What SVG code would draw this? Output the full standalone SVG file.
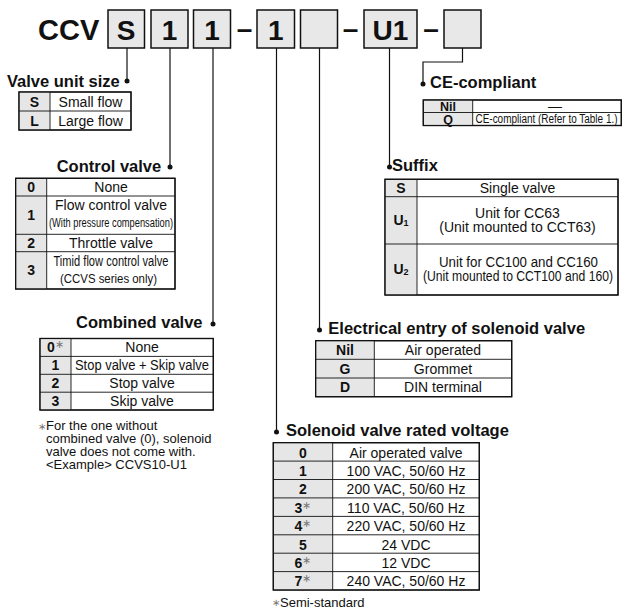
<svg xmlns="http://www.w3.org/2000/svg" width="622" height="610" viewBox="0 0 622 610">
<style>
text{font-family:"Liberation Sans",Arial,sans-serif;fill:#111}
.hd{font-size:29px;font-weight:bold}
.bx{fill:#e8e8e8;stroke:#111;stroke-width:1.5}
.bt{font-size:28px;font-weight:bold;text-anchor:middle}
.ti{font-size:16.5px;font-weight:bold}
.c{font-size:14px;text-anchor:middle}
.b{font-size:14px;font-weight:bold;text-anchor:middle}
.s{font-size:12.5px;font-weight:bold;text-anchor:middle}
.fn{font-size:13px}
.ast{fill:#777;font-size:11px;font-weight:normal}
.tb{fill:#fff;stroke:#111;stroke-width:1.2}
.g{fill:#e6e6e6;stroke:none}
.ln{stroke:#111;stroke-width:0.9;fill:none}
.con{stroke:#111;stroke-width:1.2;fill:none}
.dot{fill:#111}
</style>

<g id="code">
<text class="hd" x="38" y="40">CCV</text>
<rect class="bx" x="108" y="10" width="36.5" height="38"/><text class="bt" x="126.2" y="39.5">S</text>
<rect class="bx" x="151" y="10" width="37" height="38"/><text class="bt" x="169.5" y="39.5">1</text>
<rect class="bx" x="193.5" y="10" width="37" height="38"/><text class="bt" x="212" y="39.5">1</text>
<text class="bt" x="244.5" y="38">–</text>
<rect class="bx" x="257" y="10" width="37.5" height="38"/><text class="bt" x="275.7" y="39.5">1</text>
<rect class="bx" x="300.5" y="10" width="37" height="38"/>
<text class="bt" x="350.5" y="38">–</text>
<rect class="bx" x="364" y="10" width="53" height="38"/><text class="bt" x="390.5" y="39.5">U1</text>
<text class="bt" x="431" y="38">–</text>
<rect class="bx" x="444" y="10" width="37" height="38"/>
</g>

<g id="connectors">
<path class="con" d="M127 48V81"/>
<circle class="dot" cx="127" cy="81" r="2.5"/>
<path class="con" d="M170 48V167"/>
<circle class="dot" cx="170" cy="167" r="2.5"/>
<path class="con" d="M213 48V324"/>
<circle class="dot" cx="213" cy="324" r="2.5"/>
<path class="con" d="M276.5 48V432"/>
<circle class="dot" cx="276.5" cy="432" r="2.5"/>
<path class="con" d="M319.5 48V330"/>
<circle class="dot" cx="319.5" cy="330" r="2.5"/>
<path class="con" d="M389.5 48V167"/>
<circle class="dot" cx="389.5" cy="167" r="2.5"/>
<path class="con" d="M462.5 48V62H423V84"/>
<circle class="dot" cx="423" cy="84" r="2.5"/>
</g>

<g id="valve-unit-size">
<text class="ti" x="7" y="87.3">Valve unit size</text>
<rect class="tb" x="19" y="92" width="112" height="38"/>
<rect class="g" x="19.6" y="92.6" width="30.4" height="36.8"/>
<path class="ln" d="M50 92V130M19 111H131"/>
<rect x="19" y="92" width="112" height="38" fill="none" stroke="#111" stroke-width="1.2"/>
<text class="b" x="34.5" y="106.5">S</text><text class="c" x="90.5" y="106.5">Small flow</text>
<text class="b" x="34.5" y="125.5">L</text><text class="c" x="90.5" y="125.5">Large flow</text>
</g>

<g id="control-valve">
<text class="ti" x="56.7" y="171.5">Control valve</text>
<rect class="tb" x="15.7" y="178.3" width="159.3" height="110.7"/>
<rect class="g" x="16.3" y="178.9" width="30.4" height="109.5"/>
<path class="ln" d="M46.7 178.3V289M15.7 196H175M15.7 234.3H175M15.7 251.7H175"/>
<rect x="15.7" y="178.3" width="159.3" height="110.7" fill="none" stroke="#111" stroke-width="1.2"/>
<text class="b" x="31.2" y="192">0</text><text class="c" x="111" y="192">None</text>
<text class="b" x="31.2" y="220">1</text><text class="c" x="111" y="209.5">Flow control valve</text>
<text class="c" x="111" y="226.5" style="font-size:12px" textLength="124" lengthAdjust="spacingAndGlyphs">(With pressure compensation)</text>
<text class="b" x="31.2" y="247.5">2</text><text class="c" x="111" y="247.5">Throttle valve</text>
<text class="b" x="31.2" y="275">3</text><text class="c" x="111" y="266" textLength="115" lengthAdjust="spacingAndGlyphs">Timid flow control valve</text>
<text class="c" x="108.5" y="282.5" style="font-size:13px" textLength="97" lengthAdjust="spacingAndGlyphs">(CCVS series only)</text>
</g>

<g id="combined-valve">
<text class="ti" x="76" y="328.3">Combined valve</text>
<rect class="tb" x="40" y="338.5" width="173.3" height="71.5"/>
<rect class="g" x="40.6" y="339.1" width="30.4" height="70.3"/>
<path class="ln" d="M71 338.5V410M40 356.4H213.3M40 374.3H213.3M40 392.2H213.3"/>
<rect x="40" y="338.5" width="173.3" height="71.5" fill="none" stroke="#111" stroke-width="1.2"/>
<text class="b" x="55.5" y="352">0<tspan class="ast" dy="-4">∗</tspan></text><text class="c" x="142" y="352">None</text>
<text class="b" x="55.5" y="370">1</text><text class="c" x="142" y="370" textLength="134" lengthAdjust="spacingAndGlyphs">Stop valve + Skip valve</text>
<text class="b" x="55.5" y="388">2</text><text class="c" x="142" y="388">Stop valve</text>
<text class="b" x="55.5" y="405.8">3</text><text class="c" x="142" y="405.8">Skip valve</text>
<text class="fn" x="37.5" y="429.5" fill="#777" style="font-size:10px;fill:#777">∗</text>
<text class="fn" x="46" y="430">For the one without</text>
<text class="fn" x="46" y="443">combined valve (0), solenoid</text>
<text class="fn" x="46" y="456">valve does not come with.</text>
<text class="fn" x="46" y="469">&lt;Example&gt; CCVS10-U1</text>
</g>

<g id="ce-compliant">
<text class="ti" x="430" y="88.3">CE-compliant</text>
<rect class="tb" x="423.3" y="100" width="198" height="25.5"/>
<rect class="g" x="423.9" y="100.6" width="48.8" height="24.3"/>
<path class="ln" d="M472.7 100V125.5M423.3 112.5H622"/>
<rect x="423.3" y="100" width="198" height="25.5" fill="none" stroke="#111" stroke-width="1.2"/>
<text class="s" x="448" y="110.8">Nil</text>
<text class="c" x="555" y="110.5">—</text>
<text class="s" x="448" y="123.5">Q</text>
<text x="475.5" y="123.2" style="font-size:12px" textLength="142" lengthAdjust="spacingAndGlyphs">CE-compliant (Refer to Table 1.)</text>
</g>

<g id="suffix">
<text class="ti" x="392" y="171">Suffix</text>
<rect class="tb" x="385" y="179.3" width="233" height="115.7"/>
<rect class="g" x="385.6" y="179.9" width="31.4" height="114.5"/>
<path class="ln" d="M417 179.3V295M385 196.7H618M385 244H618"/>
<rect x="385" y="179.3" width="233" height="115.7" fill="none" stroke="#111" stroke-width="1.2"/>
<text class="b" x="401" y="192.5">S</text><text class="c" x="517.5" y="192.5">Single valve</text>
<text class="b" x="401" y="225">U<tspan font-size="9" dy="1">1</tspan></text>
<text class="c" x="517.5" y="218.3">Unit for CC63</text>
<text class="c" x="517.5" y="232">(Unit mounted to CCT63)</text>
<text class="b" x="401" y="274">U<tspan font-size="9" dy="1">2</tspan></text>
<text class="c" x="518.5" y="266.5" textLength="159" lengthAdjust="spacingAndGlyphs">Unit for CC100 and CC160</text>
<text class="c" x="518" y="280.5" textLength="190" lengthAdjust="spacingAndGlyphs">(Unit mounted to CCT100 and 160)</text>
</g>

<g id="electrical-entry">
<text class="ti" x="328.3" y="334">Electrical entry of solenoid valve</text>
<rect class="tb" x="315.7" y="340.7" width="196" height="56"/>
<rect class="g" x="316.3" y="341.3" width="58" height="54.8"/>
<path class="ln" d="M374.3 340.7V396.7M315.7 359.3H511.7M315.7 378H511.7"/>
<rect x="315.7" y="340.7" width="196" height="56" fill="none" stroke="#111" stroke-width="1.2"/>
<text class="b" x="345" y="355">Nil</text><text class="c" x="443" y="355">Air operated</text>
<text class="b" x="345" y="373.7">G</text><text class="c" x="443" y="373.7">Grommet</text>
<text class="b" x="345" y="392.3">D</text><text class="c" x="443" y="392.3">DIN terminal</text>
</g>

<g id="rated-voltage">
<text class="ti" x="286" y="436">Solenoid valve rated voltage</text>
<rect class="tb" x="273.3" y="442.7" width="206" height="147.3"/>
<rect class="g" x="273.9" y="443.3" width="58.8" height="146.1"/>
<path class="ln" d="M332.7 442.7V590M273.3 461.1H479.3M273.3 479.5H479.3M273.3 497.9H479.3M273.3 516.4H479.3M273.3 534.8H479.3M273.3 553.2H479.3M273.3 571.6H479.3"/>
<rect x="273.3" y="442.7" width="206" height="147.3" fill="none" stroke="#111" stroke-width="1.2"/>
<text class="b" x="303" y="457.5">0</text><text class="c" x="406" y="457.5">Air operated valve</text>
<text class="b" x="303" y="475.9">1</text><text class="c" x="406" y="475.9">100 VAC, 50/60 Hz</text>
<text class="b" x="303" y="494.3">2</text><text class="c" x="406" y="494.3">200 VAC, 50/60 Hz</text>
<text class="b" x="303" y="512.7">3<tspan class="ast" dy="-4">∗</tspan></text><text class="c" x="406" y="512.7">110 VAC, 50/60 Hz</text>
<text class="b" x="303" y="531.2">4<tspan class="ast" dy="-4">∗</tspan></text><text class="c" x="406" y="531.2">220 VAC, 50/60 Hz</text>
<text class="b" x="303" y="549.6">5</text><text class="c" x="406" y="549.6">24 VDC</text>
<text class="b" x="303" y="568">6<tspan class="ast" dy="-4">∗</tspan></text><text class="c" x="406" y="568">12 VDC</text>
<text class="b" x="303" y="586.4">7<tspan class="ast" dy="-4">∗</tspan></text><text class="c" x="406" y="586.4">240 VAC, 50/60 Hz</text>
<text x="271.5" y="606" style="font-size:10px;fill:#777">∗</text>
<text class="fn" x="280" y="606.5">Semi-standard</text>
</g>
</svg>
